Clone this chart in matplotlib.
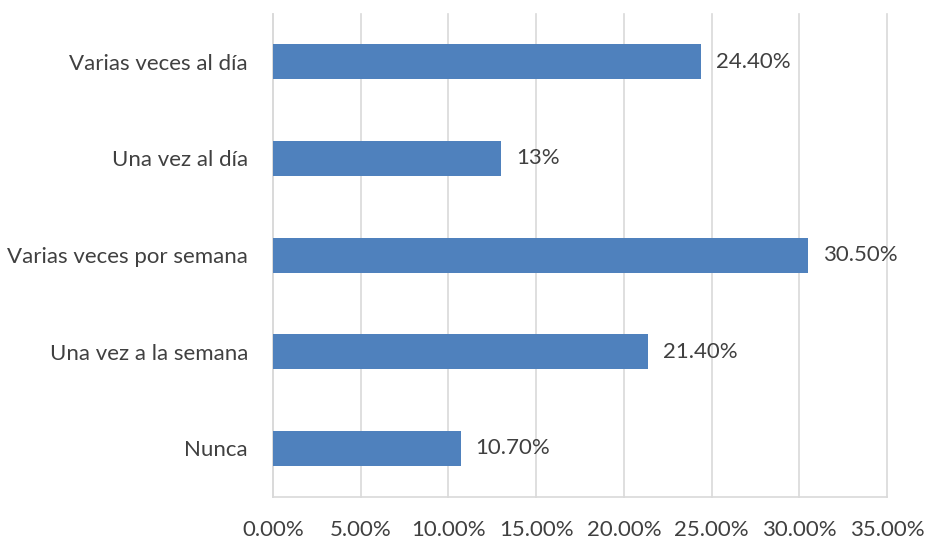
import matplotlib
matplotlib.use("Agg")
import matplotlib.pyplot as plt
from matplotlib.ticker import FuncFormatter

categories = ["Varias veces al día", "Una vez al día", "Varias veces por semana",
              "Una vez a la semana", "Nunca"]
values = [24.4, 13.0, 30.5, 21.4, 10.7]
value_labels = ["24.40%", "13%", "30.50%", "21.40%", "10.70%"]
x_ticks = [0, 5, 10, 15, 20, 25, 30, 35]

BAR_COLOR = "#4F81BD"
TEXT_COLOR = "#404040"
GRID_COLOR = "#D9D9D9"
FS = 16

plt.rcParams["font.family"] = ["Lato", "DejaVu Sans"]

fig = plt.figure(figsize=(9.25, 5.4), dpi=100)
ax = fig.add_axes([0.295, 0.08, 0.664, 0.895])

ypos = list(range(len(categories)))[::-1]
ax.barh(ypos, values, height=0.36, color=BAR_COLOR, zorder=3)

for y, v, lab in zip(ypos, values, value_labels):
    ax.text(v + 0.85, y, lab, va="center", ha="left", fontsize=FS, color=TEXT_COLOR)

ax.set_xlim(0, 35)
ax.set_ylim(-0.5, 4.5)
ax.set_xticks(x_ticks)
ax.xaxis.set_major_formatter(FuncFormatter(lambda v, _: "{:.2f}%".format(v)))
ax.set_yticks(ypos)
ax.set_yticklabels(categories)

ax.grid(True, axis="x", color=GRID_COLOR, linewidth=1.2, zorder=0)
for gl in ax.get_xgridlines():
    gl.set_clip_on(False)
ax.tick_params(axis="both", length=0, labelsize=FS, colors=TEXT_COLOR)
ax.tick_params(axis="x", pad=17)
ax.tick_params(axis="y", pad=18)
for s in ["top", "right"]:
    ax.spines[s].set_visible(False)
for s in ["left", "bottom"]:
    ax.spines[s].set_color(GRID_COLOR)
    ax.spines[s].set_linewidth(1.2)

plt.savefig("out.png", dpi=100)
plt.close()
